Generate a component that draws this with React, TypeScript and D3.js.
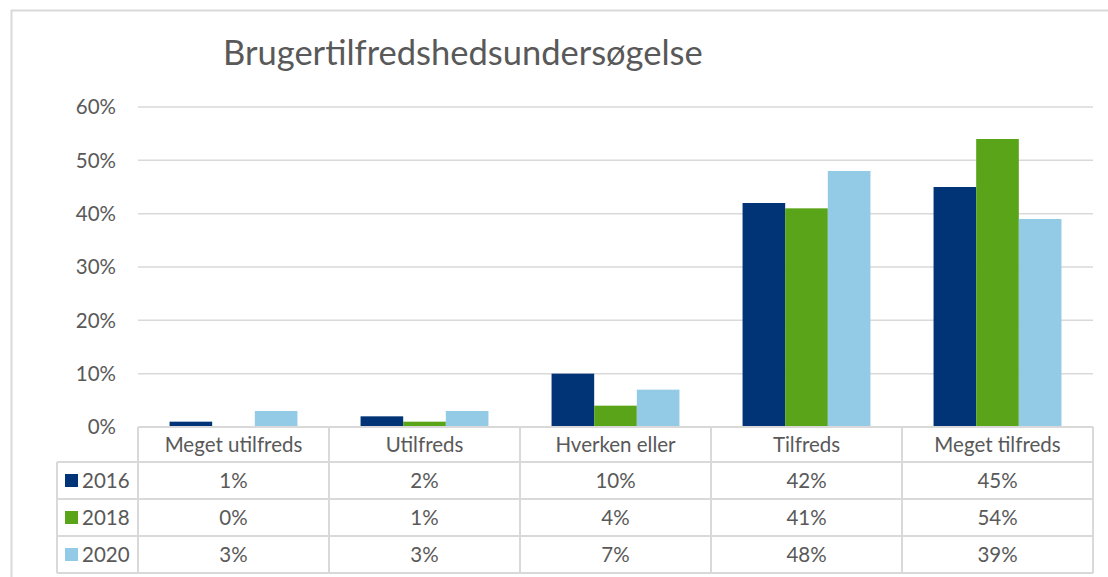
import React, { useEffect, useRef } from 'react';
import * as d3 from 'd3';

const categories = ['Meget utilfreds', 'Utilfreds', 'Hverken eller', 'Tilfreds', 'Meget tilfreds'];
const seriesNames = ['2016', '2018', '2020'];
const values2016 = [1, 2, 10, 42, 45];
const values2018 = [0, 1, 4, 41, 54];
const values2020 = [3, 3, 7, 48, 39];
const yTicks = [0, 10, 20, 30, 40, 50, 60];
const colors = ['#003476', '#5aa419', '#93cae6'];

function App() {
  const ref = useRef<SVGSVGElement>(null);

  useEffect(() => {
    if (!ref.current) return;
    const svg = d3.select(ref.current);
    svg.selectAll('*').remove();

    const W = 1108, H = 577;
    const font = 'Lato, "Open Sans", sans-serif';
    const textColor = '#595959';
    const lineColor = '#d9d9d9';

    // plot area
    const left = 138, right = 1093, top = 107, bottom = 427;
    const series = [values2016, values2018, values2020];

    // outer chart border
    svg.append('rect')
       .attr('x', 11.5).attr('y', 10.5)
       .attr('width', W + 20).attr('height', H + 20)
       .attr('fill', 'white').attr('stroke', lineColor).attr('stroke-width', 2);

    svg.append('text')
       .attr('x', 223).attr('y', 65)
       .attr('font-family', font).attr('font-size', 34.5)
       .attr('fill', textColor)
       .text('Brugertilfredshedsundersøgelse');

    const x = d3.scaleBand().domain(categories).range([left, right]);
    const y = d3.scaleLinear().domain([0, 60]).range([bottom, top]);

    // gridlines + tick labels
    svg.append('g').selectAll('line')
       .data(yTicks.filter(t => t > 0))
       .join('line')
       .attr('x1', left).attr('x2', right)
       .attr('y1', d => y(d)).attr('y2', d => y(d))
       .attr('stroke', lineColor).attr('stroke-width', 1.5);

    svg.append('g').selectAll('text')
       .data(yTicks)
       .join('text')
       .attr('x', 116).attr('y', d => y(d))
       .attr('dy', '0.35em')
       .attr('text-anchor', 'end')
       .attr('font-family', font).attr('font-size', 20.5)
       .attr('fill', textColor)
       .text(d => `${d}%`);

    // bars
    const bw = x.bandwidth();
    const barW = bw / (3 + 1.48);
    const inner = d3.scaleBand().domain(seriesNames)
                    .range([(bw - 3 * barW) / 2, (bw + 3 * barW) / 2]);

    const groups = svg.append('g').selectAll('g')
       .data(categories)
       .join('g')
       .attr('transform', d => `translate(${x(d)},0)`);

    groups.selectAll('rect')
       .data((_, i) => series.map((s, k) => ({ name: seriesNames[k], v: s[i], k })))
       .join('rect')
       .attr('x', d => inner(d.name)!)
       .attr('width', inner.bandwidth())
       .attr('y', d => y(d.v))
       .attr('height', d => bottom - y(d.v))
       .attr('fill', d => colors[d.k]);

    // data table
    const tableLeft = 57;
    const headerBottom = 462;
    const rowH = 37;
    const rowsTop = headerBottom;
    const tableBottom = rowsTop + rowH * 3;
    const tbl = svg.append('g')
                   .attr('stroke', lineColor).attr('stroke-width', 2).attr('fill', 'none');

    tbl.append('line').attr('x1', left).attr('x2', right).attr('y1', bottom).attr('y2', bottom);
    [headerBottom, headerBottom + rowH, headerBottom + 2 * rowH, tableBottom].forEach(yy => {
      tbl.append('line').attr('x1', tableLeft).attr('x2', right).attr('y1', yy).attr('y2', yy);
    });
    tbl.append('line').attr('x1', tableLeft).attr('x2', tableLeft).attr('y1', headerBottom).attr('y2', tableBottom);
    [left, ...categories.map(c => x(c)! + bw)].forEach(xx => {
      tbl.append('line').attr('x1', xx).attr('x2', xx).attr('y1', bottom).attr('y2', tableBottom);
    });

    const txt = svg.append('g')
                   .attr('font-family', font).attr('font-size', 20.5)
                   .attr('fill', textColor).attr('text-anchor', 'middle');

    categories.forEach(c => {
      txt.append('text')
         .attr('x', x(c)! + bw / 2).attr('y', (bottom + headerBottom) / 2)
         .attr('dy', '0.35em').text(c);
    });

    series.forEach((s, k) => {
      const cy = rowsTop + rowH * k + rowH / 2;
      svg.append('rect')
         .attr('x', 65).attr('y', cy - 6.5)
         .attr('width', 13).attr('height', 13)
         .attr('fill', colors[k]);
      txt.append('text')
         .attr('x', 82).attr('y', cy).attr('dy', '0.35em')
         .attr('text-anchor', 'start')
         .text(seriesNames[k]);
      s.forEach((v, i) => {
        txt.append('text')
           .attr('x', x(categories[i])! + bw / 2).attr('y', cy)
           .attr('dy', '0.35em').text(`${v}%`);
      });
    });
  }, []);

  return (
    <svg ref={ref} width={1108} height={577}
         style={{ position: 'absolute', left: 0, top: 0, display: 'block' }} />
  );
}

export default App;
